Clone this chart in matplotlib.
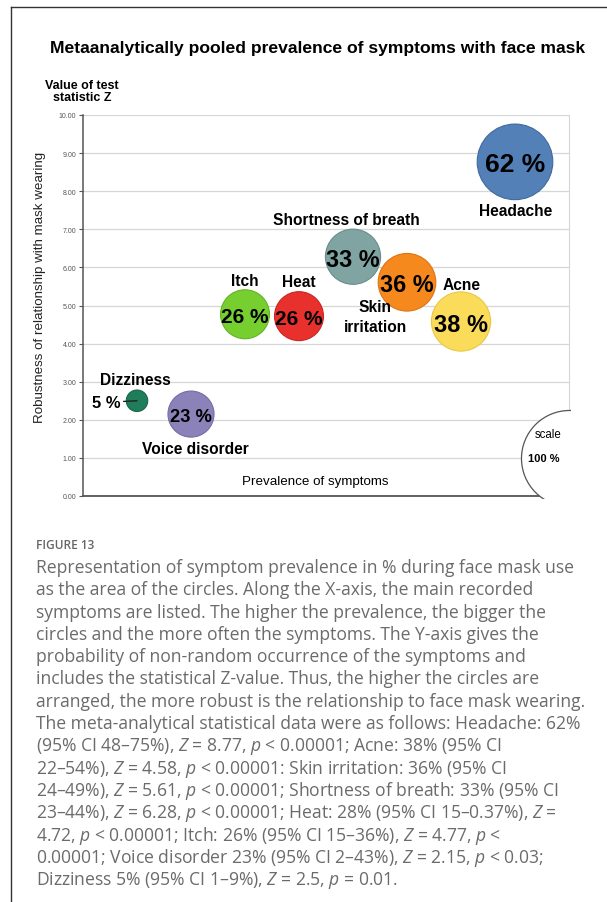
import matplotlib.pyplot as plt
from matplotlib.lines import Line2D
from matplotlib.patches import Rectangle

plt.rcParams["font.family"] = ["Liberation Sans", "DejaVu Sans"]
plt.rcParams["mathtext.fontset"] = "custom"
plt.rcParams["mathtext.it"] = "Open Sans:italic"
plt.rcParams["mathtext.rm"] = "Open Sans"

# chart data: symptom order along x, Z value on y, prevalence as circle area
symptoms = ["Dizziness", "Voice disorder", "Itch", "Heat", "Shortness of breath",
            "Skin\nirritation", "Acne", "Headache"]
prevalence = [5, 23, 26, 26, 33, 36, 38, 62]
z_values = [2.5, 2.15, 4.77, 4.72, 6.28, 5.61, 4.58, 8.77]
positions = [1, 2, 3, 4, 5, 6, 7, 8]
colors = ["#1f7d5c", "#8a82b8", "#77cf2f", "#e8312d", "#7fa4a1",
          "#f6891e", "#fadc5a", "#5380b7"]
edges = ["#17654a", "#756ca3", "#63b324", "#c92522", "#6a8d8a",
         "#dc7412", "#e8c744", "#3f6aa0"]
pct_sizes = [12, 13.2, 15, 15, 16.8, 16.8, 17, 19]
# label offsets from circle centre, in points
name_offsets = [(-1, 15.5), (3.5, -24.5), (0, 24.5), (0, 25), (-5, 27),
                (-23, -24.5), (0.7, 27), (0.7, -35)]
scale_pct = 100
scale_pos = (9, 1)

y_ticks = list(range(0, 11))

caption_lines = [
    "Representation of symptom prevalence in % during face mask use",
    "as the area of the circles. Along the X-axis, the main recorded",
    "symptoms are listed. The higher the prevalence, the bigger the",
    "circles and the more often the symptoms. The Y-axis gives the",
    "probability of non-random occurrence of the symptoms and",
    "includes the statistical Z-value. Thus, the higher the circles are",
    "arranged, the more robust is the relationship to face mask wearing.",
    "The meta-analytical statistical data were as follows: Headache: 62%",
    "(95% CI 48\u201375%), $Z$ = 8.77, $p$ < 0.00001; Acne: 38% (95% CI",
    "22\u201354%), $Z$ = 4.58, $p$ < 0.00001: Skin irritation: 36% (95% CI",
    "24\u201349%), $Z$ = 5.61, $p$ < 0.00001; Shortness of breath: 33% (95% CI",
    "23\u201344%), $Z$ = 6.28, $p$ < 0.00001; Heat: 28% (95% CI 15\u20130.37%), $Z$ =",
    "4.72, $p$ < 0.00001; Itch: 26% (95% CI 15\u201336%), $Z$ = 4.77, $p$ <",
    "0.00001; Voice disorder 23% (95% CI 2\u201343%), $Z$ = 2.15, $p$ < 0.03;",
    "Dizziness 5% (95% CI 1\u20139%), $Z$ = 2.5, $p$ = 0.01.",
]

W, H = 607, 903
AREA_PER_PCT = 47.8  # pt^2 per percent


def fx(px):
    return px / W


def fy(py):
    return 1 - py / H


fig = plt.figure(figsize=(W / 100, H / 100), dpi=100)
fig.patch.set_facecolor("white")

# outer frame (right and bottom are cut off)
fig.add_artist(Line2D([fx(11), fx(W)], [fy(7.5), fy(7.5)], color="#333333", lw=1.0))
fig.add_artist(Line2D([fx(11), fx(11)], [fy(7.5), fy(H)], color="#333333", lw=1.0))

ax = fig.add_axes([fx(83), fy(497), fx(569) - fx(83), fy(116) - fy(497)])
ax.set_xlim(0, 9)
ax.set_ylim(0, 10)
ax.set_xticks([])
ax.set_yticks(y_ticks)
ax.set_yticklabels([f"{v:.2f}" for v in y_ticks], fontsize=5, color="#555555")
ax.tick_params(axis="y", length=3, width=0.8, color="#555555", pad=2)
ax.yaxis.grid(True, color="#d6d6d6", lw=0.9)
ax.set_axisbelow(True)
ax.spines["top"].set_visible(False)
ax.spines["right"].set_color("#d6d6d6")
ax.spines["left"].set_color("#555555")
ax.spines["left"].set_linewidth(1.1)
ax.spines["bottom"].set_color("#555555")
ax.spines["bottom"].set_linewidth(1.3)

ax.scatter(positions, z_values, s=[p * AREA_PER_PCT for p in prevalence],
           c=colors, edgecolors=edges, linewidths=0.8, zorder=3)

for x, z, p, name, off, fs in zip(positions, z_values, prevalence, symptoms,
                                   name_offsets, pct_sizes):
    ax.annotate(name, (x, z), xytext=off, textcoords="offset points",
                ha="center", va="center", fontsize=11.2, fontweight="bold",
                linespacing=1.4, zorder=6)
    if name == "Dizziness":
        ax.annotate(f"{p} %", (x, z), xytext=(-22, 0), textcoords="offset points",
                    ha="center", va="center_baseline", fontsize=fs,
                    fontweight="bold", zorder=6,
                    arrowprops=dict(arrowstyle="-", color="#222222", lw=1.0,
                                    shrinkA=0, shrinkB=0))
    else:
        ax.annotate(f"{p} %", (x, z), ha="center", va="center_baseline",
                    fontsize=fs, fontweight="bold", zorder=6)

# scale circle in the lower right corner, only the part inside the plot shows
sc = ax.scatter([scale_pos[0]], [scale_pos[1]], s=scale_pct * AREA_PER_PCT,
                facecolor="white", edgecolor="#555555", linewidths=0.9, zorder=5)
clip = Rectangle((0, -0.004), 1.003, 1.004, transform=ax.transAxes)
sc.set_clip_path(clip)
ax.annotate("scale", scale_pos, xytext=(-15, 17), textcoords="offset points",
            ha="center", va="center", fontsize=8.3, zorder=6)
ax.annotate(f"{scale_pct} %", scale_pos, xytext=(-18, 0), textcoords="offset points",
            ha="center", va="center", fontsize=8, fontweight="bold", zorder=6)

ax.text(4.3, 0.39, "Prevalence of symptoms", ha="center", va="center",
        fontsize=9.6, zorder=6)

fig.text(fx(40), fy(287), "Robustness of relationship with mask wearing",
         rotation=90, ha="center", va="center", fontsize=9.6, color="#222222")
fig.text(fx(82), fy(92), "Value of test\nstatistic Z", ha="center", va="center",
         fontsize=9, fontweight="bold", linespacing=1.05)
fig.text(fx(318), fy(48), "Metaanalytically pooled prevalence of symptoms with face mask",
         ha="center", va="center", fontsize=12.6, fontweight="bold")

# caption
fig.text(fx(36), fy(546), "FIGURE 13", ha="left", va="center", fontsize=8.6,
         color="#666666", family="Open Sans", fontweight="semibold")
for i, line in enumerate(caption_lines):
    fig.text(fx(36), fy(568 + i * 22.3), line, ha="left", va="center",
             fontsize=12.65, color="#6b6b6b", family="Open Sans")

fig.savefig("out.png", dpi=100)
